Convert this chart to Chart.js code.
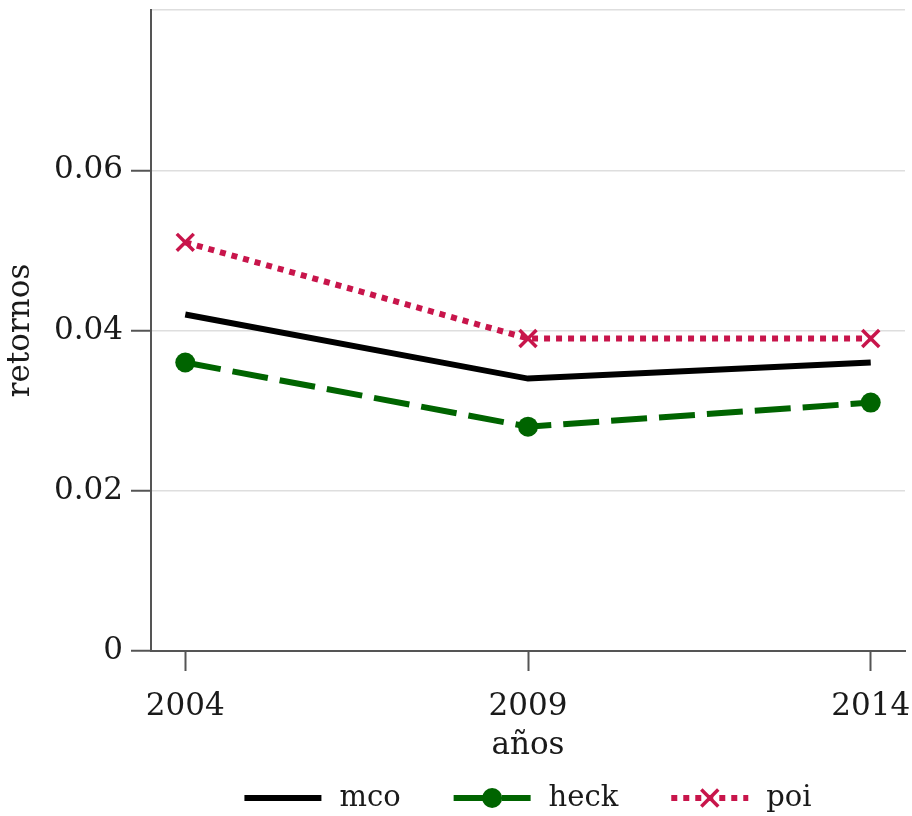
<!DOCTYPE html>
<html>
<head>
<meta charset="utf-8">
<script src="https://cdn.jsdelivr.net/npm/chart.js@4"></script>
<style>
  html, body { margin: 0; padding: 0; background: #fff; }
  #wrap { width: 912px; height: 816px; }
</style>
</head>
<body>
<div id="wrap"><canvas id="chart"></canvas></div>
<script>
// data
const years = [2004, 2009, 2014];
const mco = [0.042, 0.034, 0.036];
const heck = [0.036, 0.028, 0.031];
const poi = [0.051, 0.039, 0.039];
const yTicks = [0, 0.02, 0.04, 0.06, 0.08];
const xTitle = "años";
const yTitle = "retornos";

const FONT_FAMILY = "'DejaVu Serif', serif";
const FONT_SIZE = 31;
const LEGEND_SIZE = 29;
const TEXT = "#1a1a1a";
const AXIS = "#555";

function toPoints(vals) {
  return vals.map((v, i) => ({ x: years[i], y: v }));
}

// legend drawn under the plot, centered on the plot area
const bottomLegend = {
  id: "bottomLegend",
  afterDraw(chart) {
    const ctx = chart.ctx;
    const area = chart.chartArea;
    const y = 798;
    const lineLen = 77, gapText = 18, gapItem = 53;

    ctx.save();
    ctx.font = LEGEND_SIZE + "px " + FONT_FAMILY;
    const items = chart.data.datasets.map(ds => ({ ds: ds, w: ctx.measureText(ds.label).width }));
    const total = items.reduce((s, it) => s + lineLen + gapText + it.w, 0) + gapItem * (items.length - 1);
    let x = (area.left + area.right) / 2 - total / 2;

    items.forEach(it => {
      const ds = it.ds;
      ctx.strokeStyle = ds.borderColor;
      ctx.lineWidth = ds.borderWidth;
      ctx.lineCap = "butt";
      ctx.setLineDash(ds.borderDash || []);
      ctx.beginPath();
      ctx.moveTo(x, y);
      ctx.lineTo(x + lineLen, y);
      ctx.stroke();
      ctx.setLineDash([]);

      if (ds.pointRadius > 0) {
        ctx.fillStyle = ds.pointBackgroundColor;
        ctx.strokeStyle = ds.pointBorderColor;
        ctx.lineWidth = ds.pointBorderWidth;
        Chart.helpers.drawPoint(ctx, {
          pointStyle: ds.pointStyle,
          radius: ds.pointRadius,
          borderWidth: ds.pointBorderWidth,
          rotation: 0
        }, x + lineLen / 2, y);
      }

      ctx.fillStyle = TEXT;
      ctx.textBaseline = "middle";
      ctx.textAlign = "left";
      ctx.fillText(ds.label, x + lineLen + gapText, y);
      x += lineLen + gapText + it.w + gapItem;
    });
    ctx.restore();
  }
};

new Chart(document.getElementById("chart"), {
  type: "line",
  data: {
    datasets: [
      {
        label: "mco",
        data: toPoints(mco),
        borderColor: "#000000",
        borderWidth: 6,
        pointRadius: 0,
        tension: 0
      },
      {
        label: "heck",
        data: toPoints(heck),
        borderColor: "#006400",
        borderWidth: 6,
        borderDash: [36, 12],
        pointStyle: "circle",
        pointRadius: 10,
        pointBorderWidth: 0,
        pointBackgroundColor: "#006400",
        pointBorderColor: "#006400",
        tension: 0
      },
      {
        label: "poi",
        data: toPoints(poi),
        borderColor: "#c8154b",
        borderWidth: 6,
        borderDash: [6, 6],
        pointStyle: "crossRot",
        pointRadius: 12,
        pointBorderWidth: 3.5,
        pointBackgroundColor: "#c8154b",
        pointBorderColor: "#c8154b",
        tension: 0
      }
    ]
  },
  options: {
    responsive: true,
    maintainAspectRatio: false,
    animation: false,
    layout: { autoPadding: false, padding: { top: 10, right: 7, bottom: 50, left: 0 } },
    plugins: {
      legend: { display: false },
      tooltip: { enabled: false }
    },
    scales: {
      x: {
        type: "linear",
        min: 2003.5,
        max: 2014.5,
        afterBuildTicks: scale => { scale.ticks = years.map(v => ({ value: v })); },
        afterFit: scale => {
          scale.height = 115;
          scale.paddingLeft = 0;
          scale.paddingRight = 0;
        },
        ticks: {
          color: TEXT,
          font: { family: FONT_FAMILY, size: FONT_SIZE },
          padding: 17,
          maxRotation: 0,
          autoSkip: false,
          callback: v => String(v)
        },
        grid: {
          drawOnChartArea: false,
          drawTicks: true,
          tickLength: 20,
          tickColor: AXIS,
          tickWidth: 2
        },
        border: { display: true, color: AXIS, width: 2 },
        title: {
          display: true,
          text: xTitle,
          color: TEXT,
          font: { family: FONT_FAMILY, size: FONT_SIZE },
          padding: { top: 0, bottom: 1 }
        }
      },
      y: {
        min: 0,
        max: 0.08,
        afterBuildTicks: scale => { scale.ticks = yTicks.map(v => ({ value: v })); },
        afterFit: scale => {
          scale.width = 151;
          scale.paddingTop = 0;
          scale.paddingBottom = 0;
        },
        ticks: {
          color: TEXT,
          font: { family: FONT_FAMILY, size: FONT_SIZE },
          padding: 8,
          callback: v => v === 0 ? "0" : (v >= 0.08 ? "" : v.toFixed(2))
        },
        grid: {
          color: c => (c.tick && c.tick.value === 0) ? "rgba(0,0,0,0)" : "#dedede",
          lineWidth: 1.5,
          drawTicks: true,
          tickLength: 20,
          tickColor: c => (c.tick && c.tick.value >= 0.08) ? "rgba(0,0,0,0)" : AXIS,
          tickWidth: 2
        },
        border: { display: true, color: AXIS, width: 2 },
        title: {
          display: true,
          text: yTitle,
          color: TEXT,
          font: { family: FONT_FAMILY, size: FONT_SIZE },
          padding: { top: 2, bottom: 0 }
        }
      }
    }
  },
  plugins: [bottomLegend]
});
</script>
</body>
</html>
